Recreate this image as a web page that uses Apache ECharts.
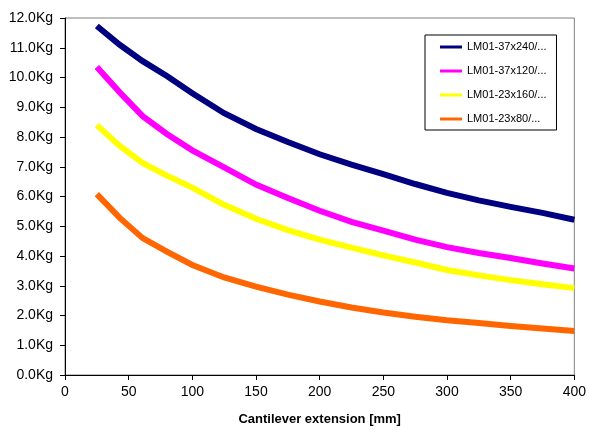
<!DOCTYPE html>
<html><head><meta charset="utf-8">
<script src="https://cdn.jsdelivr.net/npm/echarts@6/dist/echarts.min.js"></script>
<style>html,body{margin:0;padding:0;background:#fff}#c{width:589px;height:432px}</style>
</head><body><div id="c"></div>
<script>
const extension = [25, 43, 61, 80, 100, 125, 150, 175, 200, 225, 250, 275, 300, 325, 350, 375, 400];
const seriesNames = ['LM01-37x240/...', 'LM01-37x120/...', 'LM01-23x160/...', 'LM01-23x80/...'];
const lm37x240 = [11.73, 11.1, 10.55, 10.05, 9.47, 8.8, 8.27, 7.83, 7.42, 7.07, 6.75, 6.42, 6.12, 5.87, 5.65, 5.45, 5.22];
const lm37x120 = [10.35, 9.5, 8.7, 8.1, 7.55, 6.98, 6.4, 5.95, 5.52, 5.15, 4.85, 4.55, 4.3, 4.1, 3.93, 3.75, 3.58];
const lm23x160 = [8.4, 7.7, 7.13, 6.7, 6.3, 5.72, 5.25, 4.87, 4.55, 4.28, 4.02, 3.78, 3.53, 3.35, 3.19, 3.05, 2.92];
const lm23x80  = [6.08, 5.28, 4.6, 4.15, 3.7, 3.28, 2.97, 2.7, 2.47, 2.27, 2.1, 1.96, 1.84, 1.75, 1.65, 1.56, 1.48];
const xTicks = [0, 50, 100, 150, 200, 250, 300, 350, 400];

const colors = ['#000080', '#FF00FF', '#FFFF00', '#FF6600'];
const allValues = [lm37x240, lm37x120, lm23x160, lm23x80];
const font = 'Liberation Sans, Arial, sans-serif';

const chart = echarts.init(document.getElementById('c'), null, {renderer: 'canvas'});
chart.setOption({
  animation: false,
  backgroundColor: '#fff',
  grid: {left: 65, right: 12, top: 18, bottom: 57, show: true, borderColor: '#808080', borderWidth: 1},
  legend: {
    orient: 'vertical', left: 425, top: 35,
    data: seriesNames.map((n, i) => ({name: n, icon: 'rect', itemStyle: {color: colors[i]}})),
    itemWidth: 22, itemHeight: 3, itemGap: 10,
    padding: [5, 10, 4, 15],
    borderColor: '#000', borderWidth: 1, backgroundColor: '#fff',
    textStyle: {fontFamily: font, fontSize: 11, color: '#000', lineHeight: 14}
  },
  xAxis: {
    type: 'value', min: xTicks[0], max: xTicks[xTicks.length - 1], interval: 50,
    name: 'Cantilever extension [mm]', nameLocation: 'middle', nameGap: 38,
    nameTextStyle: {fontFamily: font, fontSize: 13, fontWeight: 'bold', color: '#000'},
    axisLine: {show: true, lineStyle: {color: '#000', width: 1}},
    axisTick: {show: true, length: 5, inside: false, lineStyle: {color: '#000'}},
    axisLabel: {fontFamily: font, fontSize: 14, color: '#000', margin: 10},
    splitLine: {show: false}
  },
  yAxis: {
    type: 'value', min: 0, max: 12, interval: 1,
    axisLine: {show: true, lineStyle: {color: '#000', width: 1}},
    axisTick: {show: true, length: 5, inside: false, lineStyle: {color: '#000'}},
    axisLabel: {fontFamily: font, fontSize: 14, color: '#000', margin: 12, formatter: v => v.toFixed(1) + 'Kg'},
    splitLine: {show: false}
  },
  series: seriesNames.map((n, i) => ({
    name: n, type: 'line', showSymbol: false, symbol: 'none',
    data: extension.map((x, j) => [x, allValues[i][j]]),
    lineStyle: {color: colors[i], width: 6, cap: 'butt', join: 'miter'},
    itemStyle: {color: colors[i]}
  }))
});
</script></body></html>
